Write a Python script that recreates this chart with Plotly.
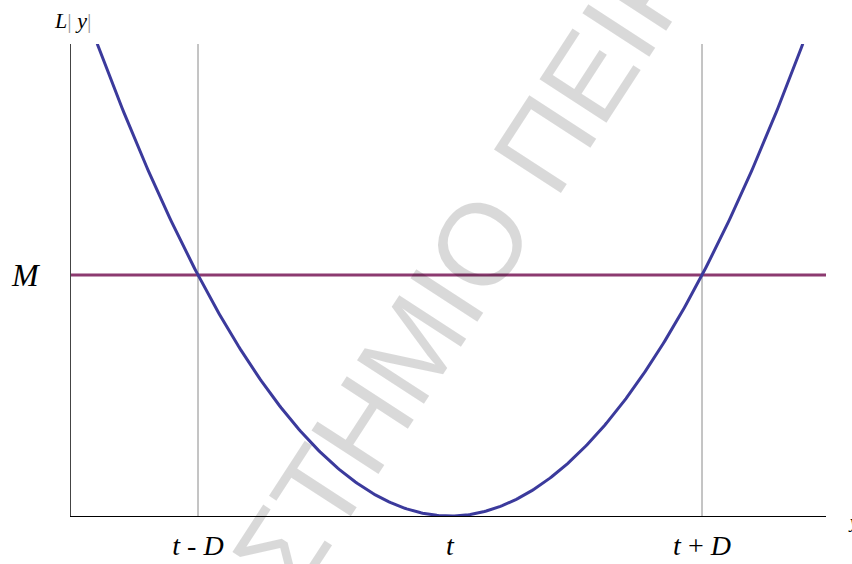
import numpy as np
import plotly.graph_objects as go

# Quadratic loss L(y) = M * ((y - t) / D)^2 with t = 0, D = 1, M = 1
target = 0.0
half_width = 1.0
loss_level = 1.0

x_ticks = [target - half_width, target, target + half_width]
x_tick_labels = ["<i>t</i> - <i>D</i>", "<i>t</i>", "<i>t</i> + <i>D</i>"]
y_ticks = [loss_level]
y_tick_labels = ["<i>M</i>"]

curve_span = [-1.40, 1.40]
x_range = [-1.504, 1.492]
y_range = [0, 1.959]

ys = np.linspace(curve_span[0], curve_span[1], 400)
loss = loss_level * ((ys - target) / half_width) ** 2

serif = "Liberation Serif, Times New Roman, serif"

fig = go.Figure()

# Vertical guides at t - D and t + D
for xv in (target - half_width, target + half_width):
    fig.add_trace(go.Scatter(
        x=[xv, xv], y=[0, y_range[1]], mode="lines",
        line=dict(color="#8a8a8a", width=1), hoverinfo="skip", showlegend=False,
    ))

# Level M
fig.add_trace(go.Scatter(
    x=[x_range[0], 1.50], y=[loss_level, loss_level], mode="lines",
    line=dict(color="#8c3a70", width=3), cliponaxis=False,
    hoverinfo="skip", showlegend=False,
))

# Loss curve
fig.add_trace(go.Scatter(
    x=ys, y=loss, mode="lines",
    line=dict(color="#3b3a9c", width=3), cliponaxis=False,
    hoverinfo="skip", showlegend=False,
))

fig.update_layout(
    width=852, height=564,
    margin=dict(l=71, r=26, t=44, b=48),
    paper_bgcolor="white", plot_bgcolor="white",
    xaxis=dict(
        range=x_range, showgrid=False, zeroline=False, automargin=False,
        showline=True, linecolor="#000000", linewidth=1,
        tickvals=x_ticks, ticktext=x_tick_labels, ticks="",
        tickfont=dict(family=serif, size=28, color="#000000"),
        ticklabelstandoff=4,
    ),
    yaxis=dict(
        range=y_range, showgrid=False, zeroline=False, automargin=False,
        showline=True, linecolor="#444444", linewidth=1,
        tickvals=y_ticks, ticktext=y_tick_labels, ticks="",
        tickfont=dict(family=serif, size=32, color="#000000"),
        ticklabelstandoff=25,
    ),
    annotations=[
        dict(
            text="<i>L</i><span style='color:#999999'>|</span> <i>y</i><span style='color:#999999'>|</span>",
            xref="paper", yref="paper", x=-0.025, y=1.0, yshift=24,
            xanchor="left", yanchor="middle", showarrow=False,
            font=dict(family=serif, size=22, color="#000000"),
        ),
        dict(
            text="<i>y</i>", xref="paper", yref="paper", x=1.0, y=0.0,
            xshift=20, yshift=-6, xanchor="left", yanchor="middle", showarrow=False,
            font=dict(family=serif, size=18, color="#000000"),
        ),
        dict(
            text="ΠΑΝΕΠΙΣΤΗΜΙΟ ΠΕΙΡΑΙΩΣ",
            xref="paper", yref="paper",
            x=(417 - 71) / 755, y=(516 - 341) / 472,
            xanchor="center", yanchor="middle", textangle=-57, showarrow=False,
            font=dict(family="Liberation Sans, Arial, sans-serif", size=116,
                      color="rgba(0,0,0,0.15)"),
        ),
    ],
)

fig.write_html("out.html")
